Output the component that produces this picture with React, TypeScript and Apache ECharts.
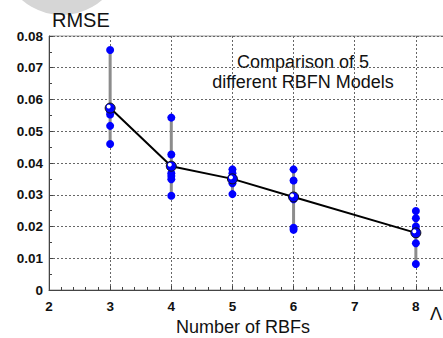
import React, { useEffect, useRef } from "react";
import * as echarts from "echarts";

const xTicks = [3, 4, 5, 6, 8];
const runs3 = [0.0756, 0.0575, 0.057, 0.0562, 0.0553, 0.0517, 0.046];
const runs4 = [0.0543, 0.0427, 0.0368, 0.0359, 0.0349, 0.0297];
const runs5 = [0.038, 0.0368, 0.0356, 0.0343, 0.0336, 0.0302];
const runs6 = [0.038, 0.0345, 0.0286, 0.0196, 0.019];
const runs8 = [0.0249, 0.0226, 0.02, 0.0189, 0.0176, 0.0147, 0.0082];
const means = [0.0573, 0.039, 0.035, 0.0293, 0.018];

export default function App() {
  const ref = useRef<HTMLDivElement>(null);
  useEffect(() => {
    if (!ref.current) return;
    const chart = echarts.init(ref.current, null, { renderer: "svg" });
    const runs = [runs3, runs4, runs5, runs6, runs8];
    const scatterData: number[][] = [];
    const rangeData: number[][] = [];
    runs.forEach((r, i) => {
      r.forEach((v) => scatterData.push([xTicks[i], v]));
      rangeData.push([xTicks[i], Math.min(...r), Math.max(...r)]);
    });
    const meanData = xTicks.map((x, i) => [x, means[i]]);
    const font = "Arial, 'Liberation Sans', sans-serif";
    chart.setOption({
      animation: false,
      backgroundColor: "#fff",
      grid: {
        left: 49,
        top: 36,
        width: 428,
        height: 254,
        show: true,
        borderColor: "#999",
        borderWidth: 1,
        containLabel: false,
        outerBoundsMode: "none",
      },
      xAxis: {
        type: "value",
        min: 2,
        max: 9,
        interval: 1,
        axisLine: { show: true, lineStyle: { color: "#444", width: 1 } },
        axisTick: { show: true, inside: true, length: 4, lineStyle: { color: "#444" } },
        minorTick: { show: true, splitNumber: 5, length: 3, lineStyle: { color: "#444" } },
        axisLabel: {
          fontFamily: font,
          fontWeight: "bold",
          fontSize: 13.5,
          color: "#111",
          margin: 9,
          formatter: (v: number) => (v > 8 ? "" : String(v)),
        },
        splitLine: { show: true, lineStyle: { color: "#666", type: [2, 2], width: 1 } },
      },
      yAxis: {
        type: "value",
        min: 0,
        max: 0.08,
        interval: 0.01,
        axisLine: { show: true, lineStyle: { color: "#444", width: 1 } },
        axisTick: { show: true, inside: true, length: 4, lineStyle: { color: "#444" } },
        minorTick: { show: true, splitNumber: 2, length: 3, lineStyle: { color: "#444" } },
        axisLabel: {
          fontFamily: font,
          fontWeight: "bold",
          fontSize: 13.5,
          color: "#111",
          margin: 6,
          formatter: (v: number) => (v === 0 ? "0" : v.toFixed(2)),
        },
        splitLine: { show: true, lineStyle: { color: "#666", type: [2, 2], width: 1 } },
      },
      graphic: [
        {
          type: "circle",
          shape: { cx: 62, cy: -46, r: 61 },
          style: { fill: "#d6d6d6" },
          z: -1,
        },
        {
          type: "text",
          x: 52,
          y: 20,
          style: { text: "RMSE", font: "20px " + font, fill: "#111", verticalAlign: "middle" },
        },
        {
          type: "text",
          x: 243,
          y: 327,
          style: { text: "Number of RBFs", font: "18px " + font, fill: "#111", align: "center", verticalAlign: "middle" },
        },
        {
          type: "text",
          x: 303,
          y: 62,
          style: { text: "Comparison of 5", font: "18px " + font, fill: "#111", align: "center", verticalAlign: "middle" },
        },
        {
          type: "text",
          x: 303,
          y: 82,
          style: { text: "different RBFN Models", font: "18px " + font, fill: "#111", align: "center", verticalAlign: "middle" },
        },
        {
          type: "text",
          x: 430,
          y: 314,
          style: { text: "Λ", font: "18px " + font, fill: "#111", verticalAlign: "middle" },
        },
      ],
      series: [
        {
          type: "custom",
          data: rangeData,
          z: 2,
          renderItem: (params: any, api: any) => {
            const p1 = api.coord([api.value(0), api.value(1)]);
            const p2 = api.coord([api.value(0), api.value(2)]);
            return {
              type: "line",
              shape: { x1: p1[0], y1: p1[1], x2: p2[0], y2: p2[1] },
              style: { stroke: "#8c8c8c", lineWidth: 3 },
            };
          },
        },
        {
          type: "scatter",
          data: scatterData,
          symbol: "circle",
          symbolSize: 8,
          itemStyle: { color: "#0000ff", opacity: 1 },
          z: 3,
        },
        {
          type: "line",
          data: meanData,
          symbol: "circle",
          symbolSize: 10,
          showSymbol: true,
          lineStyle: { color: "#000", width: 2 },
          itemStyle: {
            color: {
              type: "radial",
              x: 0.35,
              y: 0.35,
              r: 0.6,
              colorStops: [
                { offset: 0, color: "#ffffff" },
                { offset: 0.25, color: "#ffffff" },
                { offset: 0.4, color: "#0000ff" },
                { offset: 1, color: "#0000ff" },
              ],
            },
            borderColor: "#111",
            borderWidth: 1,
          },
          z: 4,
        },
      ],
    });
    return () => chart.dispose();
  }, []);
  return (
    <div
      ref={ref}
      style={{ position: "fixed", left: 0, top: 0, width: 443, height: 338 }}
    />
  );
}
